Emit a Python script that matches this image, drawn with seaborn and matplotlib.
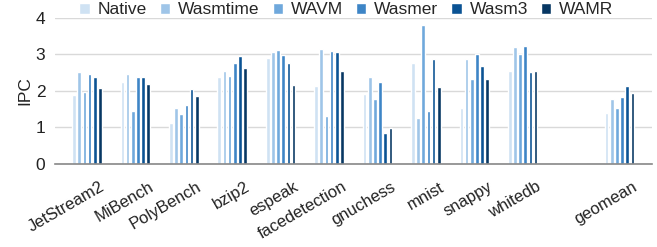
import matplotlib
matplotlib.use("Agg")
import matplotlib.pyplot as plt
import matplotlib.transforms as mtransforms
import seaborn as sns
import pandas as pd

categories = ["JetStream2", "MiBench", "PolyBench", "bzip2", "espeak", "facedetection",
              "gnuchess", "mnist", "snappy", "whitedb", " ", "geomean"]
runtimes = ["Native", "Wasmtime", "WAVM", "Wasmer", "Wasm3", "WAMR"]

native   = [1.90, 2.23, 1.12, 2.37, 2.89, 2.14, 1.92, 2.75, 1.54, 2.55, 0.03, 1.39]
wasmtime = [2.52, 2.45, 1.54, 2.54, 3.06, 3.15, 2.37, 1.25, 2.88, 3.19, 0.03, 1.79]
wavm     = [1.97, 1.45, 1.37, 2.41, 3.13, 1.32, 1.77, 3.80, 2.32, 3.01, 0.03, 1.52]
wasmer   = [2.46, 2.39, 1.61, 2.75, 2.99, 3.08, 2.23, 1.46, 3.01, 3.23, 0.03, 1.82]
wasm3    = [2.39, 2.39, 2.06, 2.96, 2.77, 3.06, 0.85, 2.88, 2.67, 2.52, 0.03, 2.13]
wamr     = [2.08, 2.20, 1.85, 2.63, 2.17, 2.55, 0.99, 2.10, 2.32, 2.54, 0.03, 1.94]

colors = ["#cfe2f3", "#9fc5e8", "#6fa8dc", "#3d85c6", "#0b5394", "#073763"]

series = [native, wasmtime, wavm, wasmer, wasm3, wamr]
rows = []
for rt, vals in zip(runtimes, series):
    for c, v in zip(categories, vals):
        rows.append({"category": c, "runtime": rt, "IPC": v})
df = pd.DataFrame(rows)

sns.set_theme(style="white")
plt.rcParams["font.family"] = ["Liberation Sans", "DejaVu Sans"]

fig = plt.figure(figsize=(6.57, 2.47), dpi=100)
ax = fig.add_axes([55/657, 1 - 164/247, 597/657, (164 - 17.7)/247])

sns.barplot(data=df, x="category", y="IPC", hue="runtime", order=categories,
            hue_order=runtimes, palette=colors, width=0.64, gap=0.3,
            ax=ax, errorbar=None, saturation=1, legend=True)

ax.set_ylim(0, 4)
ax.set_xlim(-0.66, 11.67)
ax.set_yticks([0, 1, 2, 3, 4])
ax.yaxis.grid(True, color="#d9d9d9", linewidth=1)
ax.set_axisbelow(True)
for s in ["left", "right", "top"]:
    ax.spines[s].set_visible(False)
ax.spines["bottom"].set_color("#888888")
ax.spines["bottom"].set_linewidth(1.2)
ax.tick_params(axis="y", length=0, labelsize=12.5, pad=7, colors="#222222")
ax.tick_params(axis="x", length=0, labelsize=12, pad=11, colors="#222222")
ax.set_xticks(range(len(categories)))
ax.set_xticklabels(categories, rotation=30, ha="right", rotation_mode="anchor")
offset = mtransforms.ScaledTranslation(13/100, 0, fig.dpi_scale_trans)
for lbl in ax.get_xticklabels():
    lbl.set_transform(lbl.get_transform() + offset)
ax.set_xlabel("")
ax.set_ylabel("IPC", fontsize=12.5, labelpad=2, color="#222222")

ax.legend(loc="center", bbox_to_anchor=(0.488, 1.055), ncol=6, frameon=False,
          fontsize=12.5, handlelength=0.6, handleheight=0.6, handletextpad=0.45,
          columnspacing=0.75, borderaxespad=0)

fig.savefig("out.png", dpi=100)
